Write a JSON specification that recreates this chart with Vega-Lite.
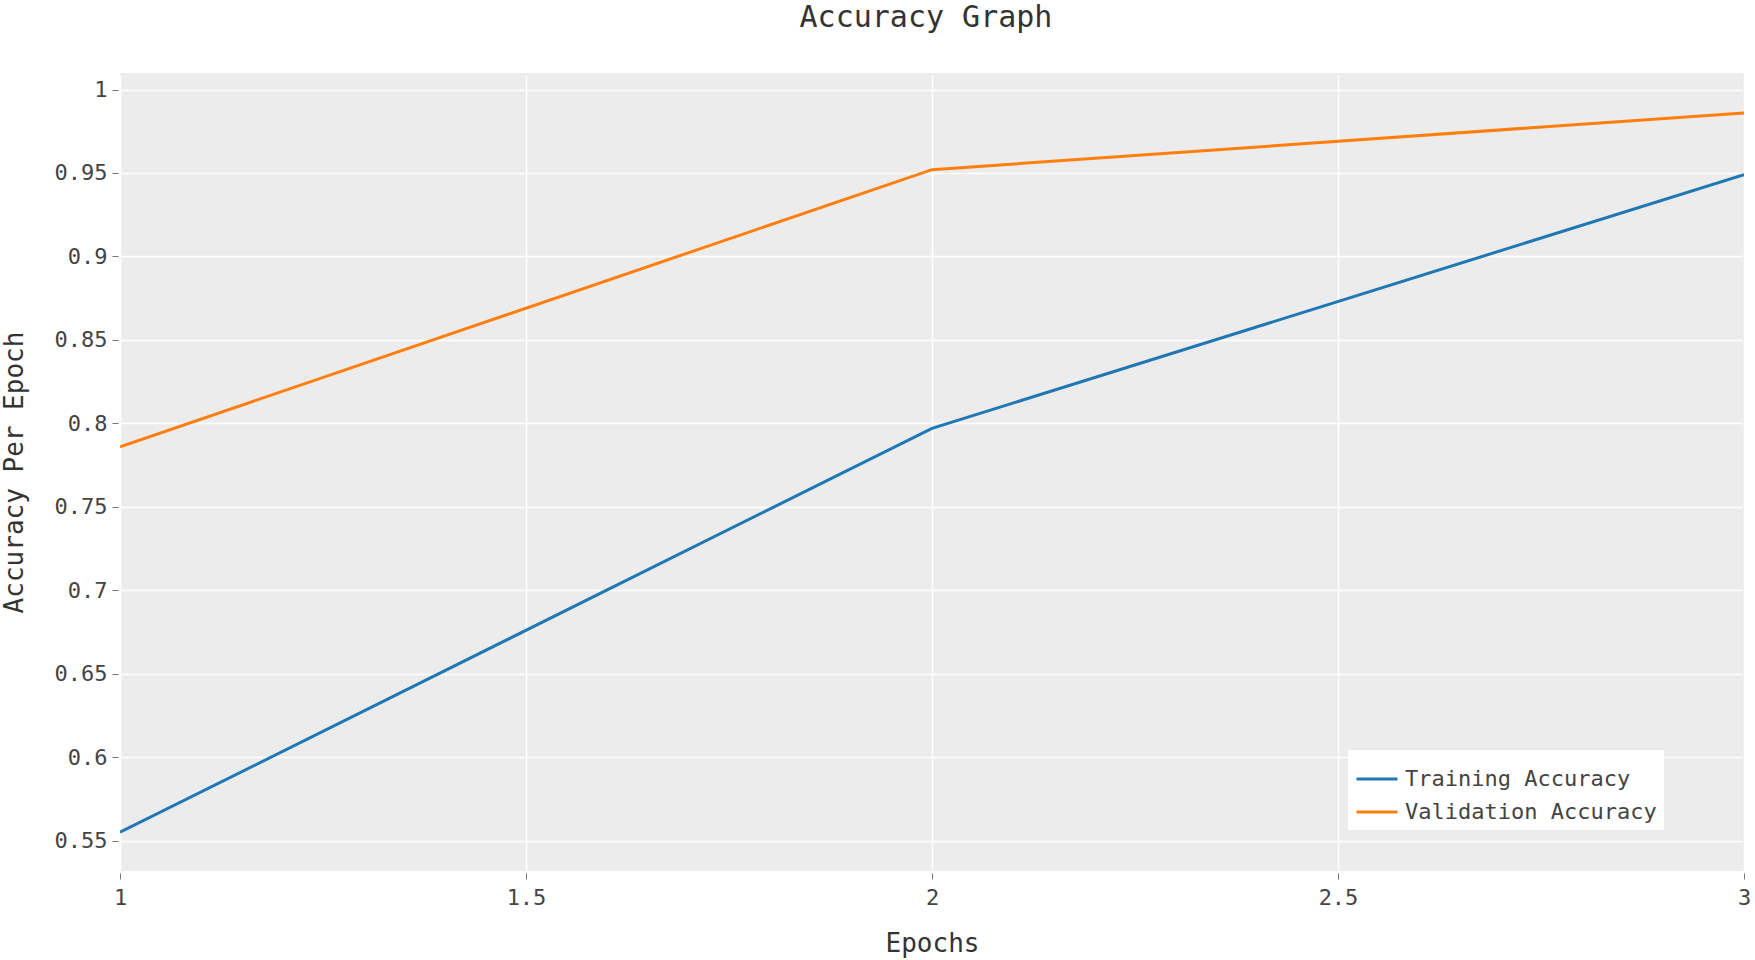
{
  "$schema": "https://vega.github.io/schema/vega-lite/v6.json",
  "autosize": {"type": "none"},
  "width": 1624,
  "height": 798,
  "padding": {"left": 120, "top": 73, "right": 11, "bottom": 89},
  "background": "white",
  "title": {
    "text": "Accuracy Graph",
    "anchor": "middle",
    "frame": "group",
    "font": "DejaVu Sans Mono",
    "fontSize": 30,
    "fontWeight": "normal",
    "color": "#333333",
    "offset": 40,
    "dx": -6
  },
  "data": {
    "values": [
      {"epoch": 1, "accuracy": 0.555, "series": "Training Accuracy"},
      {"epoch": 2, "accuracy": 0.797, "series": "Training Accuracy"},
      {"epoch": 3, "accuracy": 0.949, "series": "Training Accuracy"},
      {"epoch": 1, "accuracy": 0.786, "series": "Validation Accuracy"},
      {"epoch": 2, "accuracy": 0.952, "series": "Validation Accuracy"},
      {"epoch": 3, "accuracy": 0.986, "series": "Validation Accuracy"}
    ]
  },
  "mark": {"type": "line", "strokeWidth": 3, "clip": true},
  "encoding": {
    "x": {
      "field": "epoch",
      "type": "quantitative",
      "scale": {"domain": [1, 3], "nice": false, "zero": false},
      "axis": {
        "title": "Epochs",
        "values": [1, 1.5, 2, 2.5, 3],
        "format": "~g",
        "labelFlush": false,
        "titleY": 78,
        "titleBaseline": "alphabetic",
        "labelPadding": 8
      }
    },
    "y": {
      "field": "accuracy",
      "type": "quantitative",
      "scale": {"domain": [0.5318, 1.0099], "nice": false, "zero": false},
      "axis": {
        "title": "Accuracy Per Epoch",
        "values": [0.55, 0.6, 0.65, 0.7, 0.75, 0.8, 0.85, 0.9, 0.95, 1],
        "format": "~g",
        "titleX": -96,
        "titleBaseline": "alphabetic",
        "labelPadding": 5
      }
    },
    "color": {
      "field": "series",
      "type": "nominal",
      "scale": {
        "domain": ["Training Accuracy", "Validation Accuracy"],
        "range": ["#1f77b4", "#ff7f0e"]
      },
      "legend": {
        "title": null,
        "orient": "none",
        "legendX": 1228,
        "legendY": 677,
        "fillColor": "white",
        "padding": 7,
        "symbolType": "stroke",
        "symbolSize": 1681,
        "symbolStrokeWidth": 3,
        "labelFont": "DejaVu Sans Mono",
        "labelFontSize": 22,
        "labelColor": "#444444",
        "labelOffset": 6,
        "rowPadding": 0,
        "labelLimit": 400
      }
    }
  },
  "config": {
    "view": {"fill": "#ececec", "stroke": null},
    "axis": {
      "domain": false,
      "grid": true,
      "gridColor": "white",
      "gridWidth": 1.5,
      "tickColor": "#777777",
      "tickSize": 6,
      "offset": 2,
      "labelFont": "DejaVu Sans Mono",
      "labelFontSize": 22,
      "labelColor": "#444444",
      "titleFont": "DejaVu Sans Mono",
      "titleFontSize": 26,
      "titleFontWeight": "normal",
      "titleColor": "#333333"
    }
  }
}
